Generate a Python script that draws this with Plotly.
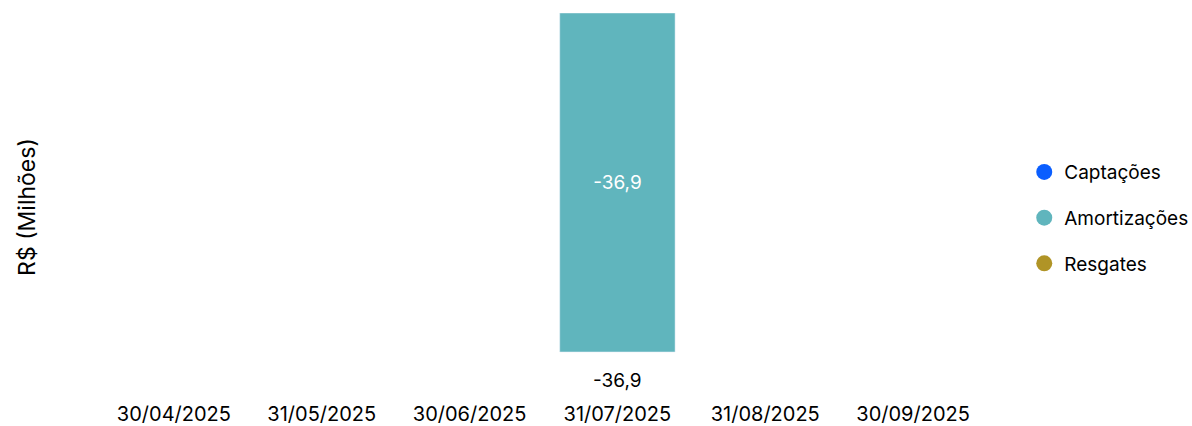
import plotly.graph_objects as go

categories = ["30/04/2025", "31/05/2025", "30/06/2025", "31/07/2025", "31/08/2025", "30/09/2025"]
captacoes = [None, None, None, None, None, None]
amortizacoes = [None, None, None, -36.9, None, None]
resgates = [None, None, None, None, None, None]
totals = [None, None, None, -36.9, None, None]

series = [
    ("Captações", captacoes, "#0A5EFF"),
    ("Amortizações", amortizacoes, "#60B5BD"),
    ("Resgates", resgates, "#B09426"),
]

def fmt(v):
    return f"{v:.1f}".replace(".", ",")

FONT = "Inter"
fig = go.Figure()
for i, (name, vals, color) in enumerate(series):
    fig.add_trace(go.Bar(
        x=categories, y=vals, name=name, marker_color=color, showlegend=False,
        text=[fmt(v) if v is not None else "" for v in vals],
        textposition="inside", insidetextanchor="middle",
        textfont=dict(color="white", size=19, family=FONT),
        hoverinfo="skip",
    ))
    fig.add_trace(go.Scatter(
        x=[None], y=[None], mode="markers", name=name, legendgroup=name,
        marker=dict(symbol="circle", size=21, color=color),
    ))

for c, t in zip(categories, totals):
    if t is not None:
        fig.add_annotation(x=c, y=t, text=fmt(t), showarrow=False, yanchor="top",
                           yshift=-15, font=dict(size=19, color="black", family=FONT))

fig.add_annotation(xref="paper", yref="paper", x=-0.083, y=0.5, xanchor="center",
                   yanchor="middle", text="R$ (Milhões)", textangle=-90, showarrow=False,
                   font=dict(size=23, family=FONT, color="black"))

fig.update_layout(
    width=1192, height=426,
    margin=dict(l=100, r=205, t=13, b=26, autoexpand=False),
    barmode="relative", bargap=0.22,
    plot_bgcolor="white", paper_bgcolor="white",
    font=dict(family=FONT, size=20, color="black"),
    legend=dict(x=1.042, y=0.47, yanchor="middle", xanchor="left",
                font=dict(size=19, family=FONT), tracegroupgap=18),
    showlegend=True,
)
fig.update_xaxes(showgrid=False, showline=False, zeroline=False, ticks="",
                 tickfont=dict(size=20, family=FONT), type="category", automargin=False)
fig.update_yaxes(range=[-42.13, 0], showgrid=False, showline=False, zeroline=False,
                 showticklabels=False, ticks="", automargin=False)

fig.write_html("out.html", config={"displayModeBar": False},
               post_script="document.body.style.margin='0';document.body.style.overflow='hidden';")
